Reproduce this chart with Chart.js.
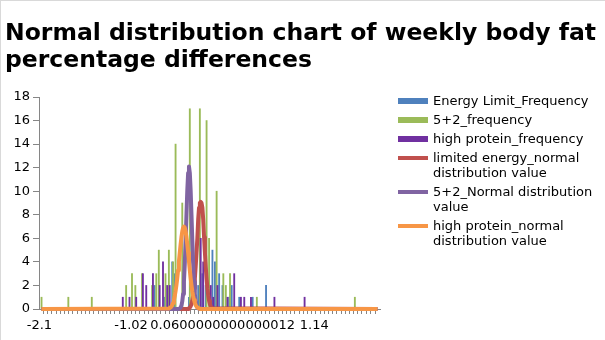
<!DOCTYPE html>
<html>
<head>
<meta charset="utf-8">
<title>Normal distribution chart of weekly body fat percentage differences</title>
<script src="https://cdn.jsdelivr.net/npm/chart.js@4.4.1/dist/chart.umd.min.js"></script>
<style>
    html, body { margin: 0; padding: 0; background: #fff; overflow: hidden; }
    .wrap { position: relative; width: 605px; height: 340px; font-family: 'DejaVu Sans', sans-serif; }
    .frame { position: absolute; left: 0; top: 0; width: 605px; height: 340px; border-top: 1px solid #d9d9d9; border-left: 1px solid #d9d9d9; box-sizing: border-box; pointer-events: none; }
    .title { position: absolute; left: 5px; top: 19px; font-size: 23.5px; font-weight: bold; line-height: 27px; color: #000; white-space: nowrap; }
    #chart { position: absolute; left: 0; top: 0; }
    .legend { position: absolute; left: 398px; top: 92.5px; width: 205px; font-size: 13px; line-height: 15px; color: #000; }
    .legend-item { display: flex; align-items: flex-start; margin-bottom: 4px; }
    .legend-mark { width: 30px; flex: none; margin-right: 5px; }
    .legend-text { width: 170px; }
</style>
</head>
<body>
<div class="wrap">
    <canvas id="chart" width="605" height="340"></canvas>
    <div class="title">Normal distribution chart of weekly body fat<br>percentage differences</div>
    <div class="legend" id="legend"></div>
    <div class="frame"></div>
</div>
<script>
// Frequency bars: x position (difference) and count
const energyX = [-0.75, -0.63, -0.54, -0.51, -0.34, -0.23, -0.18, -0.14, -0.06, -0.03, 0.02, 0.06, 0.14, 0.17, 0.26, 0.42, 0.58];
const energyFreq = [2, 1, 4, 3, 1, 2, 3, 2, 5, 4, 3, 2, 1, 2, 1, 1, 2];

const fiveTwoX = [-2.1, -1.78, -1.5, -1.09, -1.02, -0.98, -0.9, -0.78, -0.73, -0.7, -0.62, -0.58, -0.53, -0.5, -0.42, -0.33, -0.21, -0.13, -0.1, -0.01, 0.07, 0.1, 0.15, 0.47, 1.64];
const fiveTwoFreq = [1, 1, 1, 2, 3, 2, 3, 2, 3, 5, 3, 5, 4, 14, 9, 17, 17, 16, 6, 10, 3, 2, 3, 1, 1];

const proteinX = [-1.13, -1.05, -0.97, -0.89, -0.85, -0.77, -0.69, -0.65, -0.6, -0.57, -0.2, -0.17, -0.08, -0.05, 0, 0.12, 0.2, 0.28, 0.32, 0.4, 0.68, 1.04];
const proteinFreq = [1, 1, 1, 3, 2, 3, 2, 4, 2, 2, 6, 4, 2, 1, 2, 1, 3, 1, 1, 1, 1, 1];

// Normal distribution curves
const curveX = [-2.1,
    -0.58, -0.57, -0.56, -0.55, -0.54, -0.53, -0.52, -0.51, -0.5, -0.49,
    -0.48, -0.47, -0.46, -0.45, -0.44, -0.43, -0.42, -0.41, -0.4, -0.39,
    -0.38, -0.37, -0.36, -0.35, -0.34, -0.33, -0.32, -0.31, -0.3, -0.29,
    -0.28, -0.27, -0.26, -0.25, -0.24, -0.23, -0.22, -0.21, -0.2, -0.19,
    -0.18, -0.17, -0.16, -0.15, -0.14, -0.13, -0.12, -0.11, -0.1, -0.09,
    -0.08, -0.07, -0.06,
    1.91];
const energyNormal = [0,
    0, 0, 0, 0, 0, 0, 0, 0, 0, 0,
    0, 0, 0, 0, 0, 0, 0, 0, 0, 0,
    0, 0, 0, 0, 0.06, 0.13, 0.23, 0.41, 0.7, 1.14,
    1.76, 2.58, 3.6, 4.76, 6.0, 7.6, 8.6, 9.0, 9.1, 9.0,
    8.6, 7.6, 6.1, 4.8, 3.6, 2.58, 1.76, 1.14, 0.7, 0.41,
    0.23, 0.13, 0.06,
    0];
const fiveTwoNormal = [0,
    0, 0, 0, 0, 0, 0, 0, 0, 0, 0,
    0, 0, 0.02, 0.05, 0.12, 0.29, 0.64, 1.27, 2.32, 3.84,
    5.8, 8.0, 10.07, 11.55, 12.1, 11.55, 10.07, 8.0, 5.8, 3.84,
    2.32, 1.27, 0.64, 0.29, 0.12, 0.05, 0.02, 0, 0, 0,
    0, 0, 0, 0, 0, 0, 0, 0, 0, 0,
    0, 0, 0,
    0];
const proteinNormal = [0,
    0.04, 0.08, 0.13, 0.22, 0.34, 0.52, 0.76, 1.09, 1.51, 2.02,
    2.61, 3.29, 4.03, 4.77, 5.47, 6.1, 6.58, 6.9, 7.0, 6.9,
    6.58, 6.1, 5.47, 4.77, 4.03, 3.29, 2.61, 2.02, 1.51, 1.09,
    0.76, 0.52, 0.34, 0.22, 0.13, 0.08, 0.04, 0.02, 0, 0,
    0, 0, 0, 0, 0, 0, 0, 0, 0, 0,
    0, 0, 0,
    0];

// Axis labels
const xTickValues = [-2.1, -1.02, 0.06, 1.14];
const xTickLabels = ['-2.1', '-1.02', '0.0600000000000012', '1.14'];

Chart.defaults.font.family = "'DejaVu Sans', sans-serif";
Chart.defaults.font.size = 13;
Chart.defaults.color = '#000';

function pairs(xs, ys) {
    return xs.map((x, i) => ({ x: x, y: ys[i] }));
}

const axisGray = '#868686';

const datasets = [
    { type: 'bar', label: 'Energy Limit_Frequency', data: pairs(energyX, energyFreq), backgroundColor: '#4F81BD', order: 6 },
    { type: 'bar', label: '5+2_frequency', data: pairs(fiveTwoX, fiveTwoFreq), backgroundColor: '#9BBB59', order: 5 },
    { type: 'bar', label: 'high protein_frequency', data: pairs(proteinX, proteinFreq), backgroundColor: '#7030A0', order: 4 },
    { type: 'line', label: 'limited energy_normal distribution value', data: pairs(curveX, energyNormal), borderColor: '#C0504D', order: 3 },
    { type: 'line', label: '5+2_Normal distribution value', data: pairs(curveX, fiveTwoNormal), borderColor: '#8064A2', order: 2 },
    { type: 'line', label: 'high protein_normal distribution value', data: pairs(curveX, proteinNormal), borderColor: '#F79646', order: 1 }
];

datasets.forEach(ds => {
    if (ds.type === 'bar') {
        ds.barThickness = 1.2;
        ds.grouped = false;
    } else {
        ds.borderWidth = 4;
        ds.pointRadius = 0;
        ds.tension = 0;
        ds.borderJoinStyle = 'round';
        ds.clip = false;
        ds.fill = false;
    }
});

new Chart(document.getElementById('chart'), {
    data: { datasets: datasets },
    options: {
        responsive: false,
        animation: false,
        events: [],
        layout: { padding: { top: 97, right: 225, left: 0, bottom: 0 } },
        plugins: {
            legend: { display: false },
            tooltip: { enabled: false },
            title: { display: false }
        },
        scales: {
            x: {
                type: 'linear',
                axis: 'x',
                position: 'bottom',
                min: -2.105,
                max: 1.915,
                weight: 0,
                border: { color: axisGray },
                grid: { drawOnChartArea: false, tickLength: 5, color: axisGray },
                ticks: { display: false, stepSize: 0.05 },
                afterFit: function(scale) { scale.height = 6; }
            },
            xLabels: {
                type: 'linear',
                axis: 'x',
                position: 'bottom',
                min: -2.105,
                max: 1.915,
                weight: 1,
                border: { display: false },
                grid: { display: false, drawTicks: false },
                afterBuildTicks: function(scale) {
                    scale.ticks = xTickValues.map(v => ({ value: v }));
                },
                ticks: {
                    autoSkip: false,
                    maxRotation: 0,
                    padding: 3,
                    callback: function(value, index) { return xTickLabels[index]; }
                },
                afterFit: function(scale) { scale.height = 25; }
            },
            y: {
                min: 0,
                max: 18,
                border: { color: axisGray },
                grid: { drawOnChartArea: false, tickLength: 6, color: axisGray },
                ticks: { stepSize: 2, padding: 3 },
                afterFit: function(scale) { scale.width = 39; }
            }
        }
    }
});

// Legend, wrapped like the original
const legend = document.getElementById('legend');
datasets.forEach(ds => {
    const item = document.createElement('div');
    item.className = 'legend-item';
    const mark = document.createElement('div');
    mark.className = 'legend-mark';
    const h = ds.type === 'bar' ? 6 : 4;
    mark.style.height = h + 'px';
    mark.style.marginTop = ((15 - h) / 2 + 0.5) + 'px';
    mark.style.background = ds.type === 'bar' ? ds.backgroundColor : ds.borderColor;
    const text = document.createElement('div');
    text.className = 'legend-text';
    text.textContent = ds.label;
    item.appendChild(mark);
    item.appendChild(text);
    legend.appendChild(item);
});
</script>
</body>
</html>
